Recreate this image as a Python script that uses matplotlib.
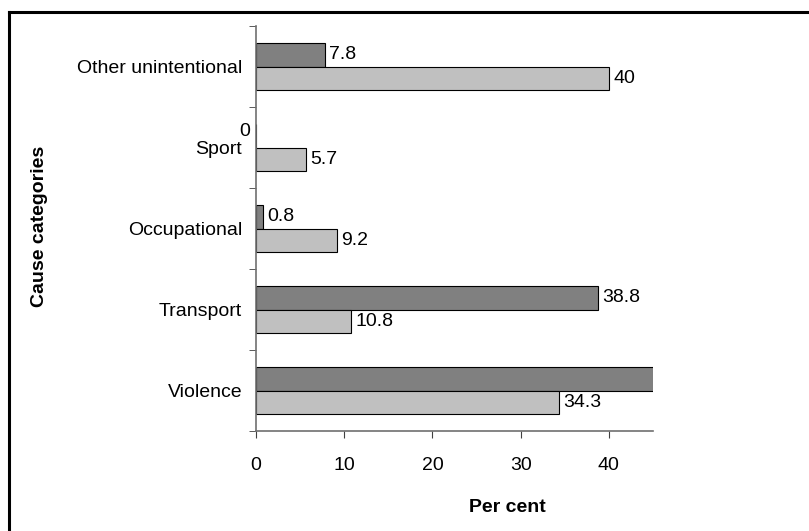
import numpy as np
import matplotlib
matplotlib.use('Agg')
import matplotlib.pyplot as plt
from matplotlib.lines import Line2D

# DATA
categories = ['Violence', 'Transport', 'Occupational', 'Sport', 'Other unintentional']
dark_vals = [52.6, 38.8, 0.8, 0, 7.8]
light_vals = [34.3, 10.8, 9.2, 5.7, 40]
dark_labels = ['52.6', '38.8', '0.8', '0', '7.8']
light_labels = ['34.3', '10.8', '9.2', '5.7', '40']

plt.rcParams['font.family'] = ['Liberation Sans', 'DejaVu Sans']
plt.rcParams['font.size'] = 14

W, H = 809, 531
fig = plt.figure(figsize=(W / 100, H / 100), dpi=100)
ax = fig.add_axes([256 / W, 1 - 431 / H, (653 - 256) / W, (431 - 26) / H])

y = np.arange(len(categories))
bh = 0.285
ax.barh(y + bh / 2, dark_vals, height=bh, color='#808080', edgecolor='black', linewidth=0.8)
ax.barh(y - bh / 2, light_vals, height=bh, color='#c0c0c0', edgecolor='black', linewidth=0.8)

# value labels
for i in range(len(categories)):
    if dark_vals[i] == 0:
        ax.annotate(dark_labels[i], (0, y[i] + bh / 2 + 0.05), xytext=(-4, 0), textcoords='offset points',
                    ha='right', va='center', annotation_clip=False)
    else:
        ax.annotate(dark_labels[i], (dark_vals[i], y[i] + bh / 2), xytext=(3, 0), textcoords='offset points',
                    ha='left', va='center', annotation_clip=True)
    ax.annotate(light_labels[i], (light_vals[i], y[i] - bh / 2), xytext=(3, 0), textcoords='offset points',
                ha='left', va='center', annotation_clip=True)

ax.set_xlim(0, 45)
ax.set_ylim(-0.5, len(categories) - 0.5)
ax.set_xticks([0, 10, 20, 30, 40])
ax.set_yticks(y)
ax.set_yticklabels(categories)
ax.set_yticks(np.arange(-0.5, len(categories)), minor=True)
ax.tick_params(axis='y', which='major', length=0, pad=10)
ax.tick_params(axis='y', which='minor', length=5, color='#404040', direction='out')
ax.tick_params(axis='x', length=5, color='#404040', pad=14)

for s in ['top', 'right']:
    ax.spines[s].set_visible(False)
for s in ['left', 'bottom']:
    ax.spines[s].set_color('#707070')
    ax.spines[s].set_linewidth(1.2)

fig.text(507 / W, 1 - 508 / H, 'Per cent', fontweight='bold', ha='center', va='center')
fig.text(40 / W, 1 - 226 / H, 'Cause categories', fontweight='bold', rotation=90, ha='center', va='center')

# outer frame (top and left edges)
fig.add_artist(Line2D([9 / W, 1], [1 - 11.5 / H] * 2, transform=fig.transFigure, color='black', linewidth=2.2))
fig.add_artist(Line2D([9 / W] * 2, [0, 1 - 11.5 / H], transform=fig.transFigure, color='black', linewidth=2.2))

fig.savefig('out.png', dpi=100)
